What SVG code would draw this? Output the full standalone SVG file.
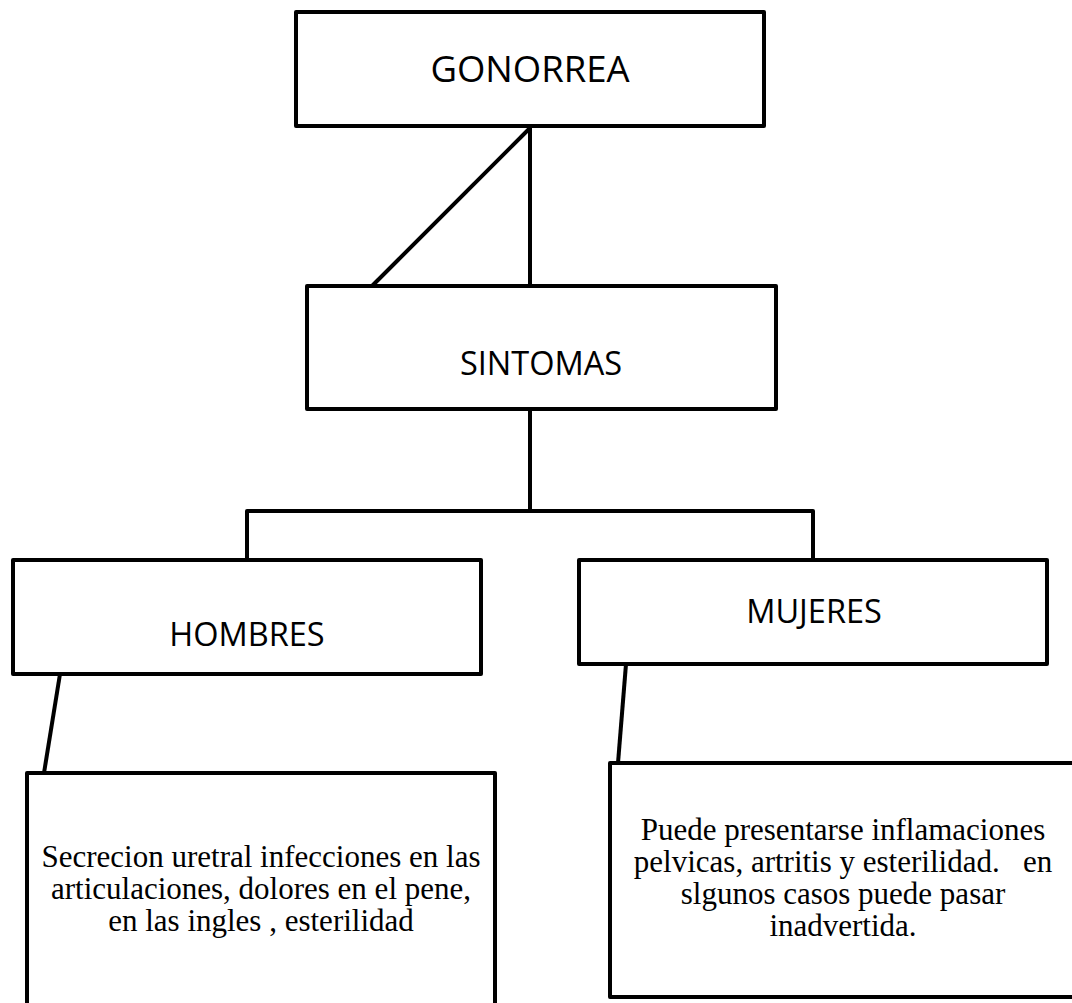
<svg xmlns="http://www.w3.org/2000/svg" width="1072" height="1003" viewBox="0 0 1072 1003">
<style>
.box{fill:#fff;stroke:#000;stroke-width:4;stroke-linejoin:round}
.ln{stroke:#000;stroke-width:4;fill:none;stroke-linejoin:round}
.sans{font-family:"Open Sans","Noto Sans",sans-serif;fill:#000;text-anchor:middle}
.serif{font-family:"Liberation Serif","Times New Roman",serif;font-size:31px;fill:#000;text-anchor:middle;white-space:pre}
</style>
<rect width="1072" height="1003" fill="#fff"/>
<g id="connectors">
<line class="ln" x1="530" y1="126" x2="530" y2="286"/>
<line class="ln" x1="530" y1="128" x2="372" y2="286"/>
<line class="ln" x1="530" y1="409" x2="530" y2="511"/>
<polyline class="ln" points="247,560 247,511 813,511 813,560"/>
<line class="ln" x1="60" y1="674" x2="44" y2="773"/>
<line class="ln" x1="626" y1="664" x2="618" y2="763"/>
</g>
<g id="gonorrea">
<rect class="box" x="296" y="12" width="468" height="114"/>
<text class="sans" x="530" y="82" font-size="36.5">GONORREA</text>
</g>
<g id="sintomas">
<rect class="box" x="307" y="286" width="469" height="123"/>
<text class="sans" x="541" y="375" font-size="32.5">SINTOMAS</text>
</g>
<g id="hombres">
<rect class="box" x="13" y="560" width="468" height="114"/>
<text class="sans" x="247" y="646" font-size="32.5">HOMBRES</text>
</g>
<g id="mujeres">
<rect class="box" x="579" y="560" width="468" height="104"/>
<text class="sans" x="814" y="623" font-size="32.5">MUJERES</text>
</g>
<g id="hombres-detalle">
<rect class="box" x="27" y="773" width="468" height="260"/>
<text class="serif" x="261" y="867">Secrecion uretral infecciones en las</text>
<text class="serif" x="261" y="899">articulaciones, dolores en el pene,</text>
<text class="serif" x="261" y="931">en las ingles , esterilidad</text>
</g>
<g id="mujeres-detalle">
<rect class="box" x="610" y="763" width="480" height="234"/>
<text class="serif" x="843" y="840">Puede presentarse inflamaciones</text>
<text class="serif" x="843" y="872" xml:space="preserve">pelvicas, artritis y esterilidad.   en</text>
<text class="serif" x="843" y="904">slgunos casos puede pasar</text>
<text class="serif" x="843" y="936">inadvertida.</text>
</g>
</svg>
